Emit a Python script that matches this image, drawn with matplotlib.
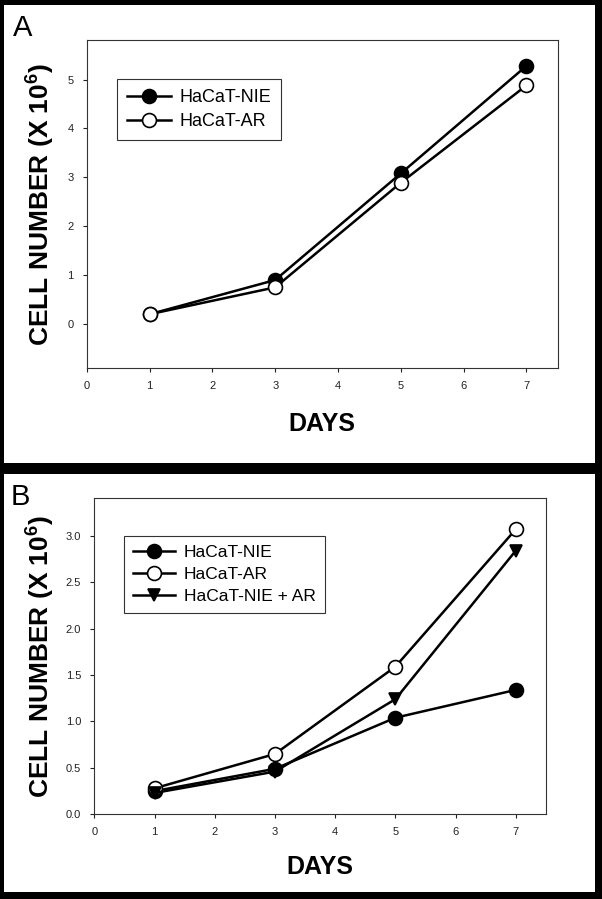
import matplotlib
matplotlib.use('Agg')
import matplotlib.pyplot as plt
from matplotlib.patches import Rectangle

days = [1, 3, 5, 7]

# panel A, cells x 10^6
a_nie = [0.2, 0.9, 3.08, 5.28]
a_ar = [0.2, 0.75, 2.89, 4.88]

# panel B, cells x 10^6
b_nie = [0.25, 0.49, 1.04, 1.34]
b_ar = [0.28, 0.65, 1.59, 3.07]
b_nie_ar = [0.23, 0.46, 1.24, 2.84]

labels = ['HaCaT-NIE', 'HaCaT-AR', 'HaCaT-NIE + AR']
x_ticks = [0, 1, 2, 3, 4, 5, 6, 7]
a_y_ticks = [0, 1, 2, 3, 4, 5]
b_y_ticks = [0.0, 0.5, 1.0, 1.5, 2.0, 2.5, 3.0]

plt.rcParams['font.family'] = ['Liberation Sans', 'DejaVu Sans']
plt.rcParams['mathtext.default'] = 'regular'

W, H = 602, 899
fig = plt.figure(figsize=(W / 100, H / 100), dpi=100, facecolor='black')

# white panel backgrounds inside the black border
fig.patches.append(Rectangle((4 / W, 1 - 463 / H), 591 / W, 458 / H,
                             transform=fig.transFigure, facecolor='white',
                             edgecolor='none', zorder=-5))
fig.patches.append(Rectangle((4 / W, 1 - 892 / H), 591 / W, 418 / H,
                             transform=fig.transFigure, facecolor='white',
                             edgecolor='none', zorder=-5))

styles = [dict(marker='o', markerfacecolor='black', markersize=10),
          dict(marker='o', markerfacecolor='white', markersize=10),
          dict(marker='v', markerfacecolor='black', markersize=9)]


def panel(ax, series, ylim, yticks, yfmt, legend_size, ylabel_x, xlabel_y):
    for i, vals in enumerate(series):
        ax.plot(days, vals, color='black', linewidth=1.8,
                markeredgecolor='black', markeredgewidth=1.2,
                label=labels[i], **styles[i])
    ax.set_xlim(0, 7.5)
    ax.set_ylim(*ylim)
    ax.set_xticks(x_ticks)
    ax.set_yticks(yticks)
    ax.set_yticklabels([yfmt.format(v) for v in yticks])
    ax.tick_params(direction='out', length=3, width=0.8, labelsize=8,
                   colors='#222222', pad=6.5)
    for s in ax.spines.values():
        s.set_linewidth(0.8)
        s.set_color('#333333')
    ax.set_xlabel('DAYS', fontsize=18, fontweight='bold')
    ax.set_ylabel('CELL NUMBER (X 10$^{6}$)', fontsize=19, fontweight='bold')
    ax.yaxis.set_label_coords(ylabel_x, 0.5)
    ax.xaxis.set_label_coords(0.5, xlabel_y)
    leg = ax.legend(loc='upper left', bbox_to_anchor=(0.065, 0.88),
                    borderaxespad=0, fontsize=legend_size, fancybox=False,
                    framealpha=1, edgecolor='#333333', handlelength=2.4,
                    handletextpad=0.5, labelspacing=0.38, borderpad=0.55)
    leg.get_frame().set_linewidth(0.8)


ax1 = fig.add_axes([86.8 / W, 1 - 368 / H, 471 / W, 328 / H])
panel(ax1, [a_nie, a_ar], (-0.9, 5.81), a_y_ticks, '{:.0f}', 13, -0.063, -0.134)

ax2 = fig.add_axes([94.4 / W, 1 - 814.3 / H, 451.5 / W, 316.6 / H])
panel(ax2, [b_nie, b_ar, b_nie_ar], (0, 3.41), b_y_ticks, '{:.1f}', 12.5, -0.083, -0.129)

fig.text(13 / W, 1 - 36 / H, 'A', fontsize=21, va='baseline')
fig.text(11 / W, 1 - 505 / H, 'B', fontsize=21, va='baseline')

fig.savefig('out.png', dpi=100, facecolor='black')
